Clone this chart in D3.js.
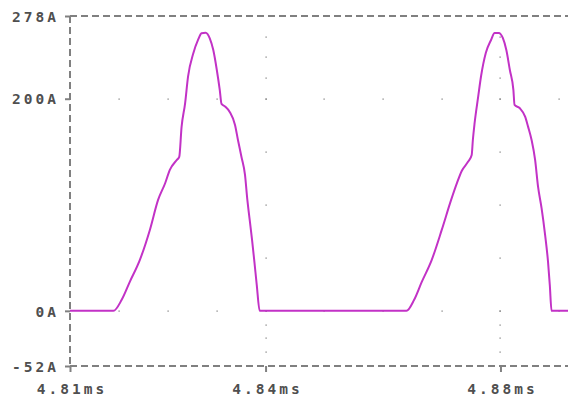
<!DOCTYPE html>
<html>
<head>
<meta charset="utf-8">
<script src="https://cdn.jsdelivr.net/npm/d3@7"></script>
<style>
  html, body { margin: 0; padding: 0; background: #fff; }
  svg { display: block; }
</style>
</head>
<body>
<svg id="chart" width="568" height="398"></svg>
<script>
// trace values (time in ms, current in A)
const timeMs = [
  4.8100, 4.8174, 4.8188, 4.8202, 4.8219, 4.8236, 4.8250, 4.8262, 4.8270, 4.8282,
  4.8286, 4.8290, 4.8296, 4.8301, 4.8310, 4.8318, 4.8324, 4.8331, 4.8338, 4.8344,
  4.8350, 4.8355, 4.8358, 4.8364, 4.8372, 4.8381, 4.8386, 4.8392, 4.8398, 4.8402,
  4.8406, 4.8410, 4.8414, 4.8418, 4.8423,
  4.8673, 4.8686, 4.8699, 4.8716, 4.8733, 4.8749, 4.8759, 4.8767, 4.8778, 4.8784,
  4.8786, 4.8789, 4.8795, 4.8800, 4.8808, 4.8817, 4.8823, 4.8830, 4.8837, 4.8843,
  4.8849, 4.8855, 4.8857, 4.8866, 4.8875, 4.8880, 4.8886, 4.8892, 4.8897, 4.8903,
  4.8909, 4.8914, 4.8917, 4.8920, 4.8948
];
const currentA = [
  0, 0, 10.4, 27.6, 48.1, 76.3, 104.6, 120.3, 132.9, 142.3,
  145.1, 173.4, 195.7, 220.8, 242.8, 255.4, 261.7, 262.3, 257.0, 245.9,
  227.1, 208.3, 195.1, 192.7, 187.5, 175.3, 161.1, 145.1, 128.2, 104.6,
  85.8, 66.9, 46.2, 24.5, 0,
  0, 10.4, 27.3, 48.1, 76.3, 104.6, 120.6, 131.9, 140.7, 147.0,
  161.1, 177.2, 201.7, 221.4, 243.1, 255.4, 262.0, 262.0, 257.3, 245.9,
  227.1, 208.3, 194.1, 191.0, 183.1, 173.7, 161.1, 142.3, 117.1, 96.8,
  71.6, 46.2, 24.5, 0, 0
];

// axis ticks and labels
const xTicks = [4.81, 4.8433, 4.8833];
const xLabels = ["4.81ms", "4.84ms", "4.88ms"];
const yTicks = [278, 200, 0, -52];
const yLabels = ["278A", "200A", "0A", "-52A"];

// dotted grid positions
const xGridMinor = [4.8183, 4.8267, 4.835, 4.8433, 4.8533, 4.8633, 4.8733, 4.8833, 4.8933];
const yGridMajor = [200, 0];
const yGridMinor = [258.5, 239, 219.5, 200, 150, 100, 50, 0, -13, -26, -39];
const xGridMajor = [4.8433, 4.8833];

const svg = d3.select("#chart");
const width = +svg.attr("width");
const height = +svg.attr("height");

const margin = { left: 70, top: 16, right: 0, bottom: 32 };

const x = d3.scaleLinear()
  .domain([4.81, 4.8948])
  .range([margin.left, width - margin.right]);

const y = d3.scaleLinear()
  .domain([-52, 278])
  .range([height - margin.bottom, margin.top]);

const axisColor = "#808080";
const textColor = "#4f4f4f";
const font = "'DejaVu Sans Mono', 'Liberation Mono', monospace";

// dotted grid
const dots = [];
yGridMajor.forEach((v) => xGridMinor.forEach((t) => dots.push([t, v])));
xGridMajor.forEach((t) => yGridMinor.forEach((v) => dots.push([t, v])));

svg.append("g")
  .selectAll("rect")
  .data(dots)
  .join("rect")
  .attr("x", (d) => Math.round(x(d[0])) - 0.5)
  .attr("y", (d) => Math.round(y(d[1])) - 0.5)
  .attr("width", 1.2)
  .attr("height", 1.2)
  .attr("fill", "#777");

// dashed frame: left, top, bottom
const frame = svg.append("g")
  .attr("stroke", axisColor)
  .attr("stroke-width", 2)
  .attr("stroke-dasharray", "7,4")
  .attr("fill", "none");

frame.append("line")
  .attr("x1", x(4.81)).attr("x2", x(4.81))
  .attr("y1", y(278)).attr("y2", y(-52));
frame.append("line")
  .attr("x1", x(4.81)).attr("x2", width)
  .attr("y1", y(278)).attr("y2", y(278));
frame.append("line")
  .attr("x1", x(4.81)).attr("x2", width)
  .attr("y1", y(-52)).attr("y2", y(-52));

// y axis ticks and labels
const yAxis = svg.append("g")
  .attr("transform", `translate(${x(4.81)},0)`)
  .call(d3.axisLeft(y).tickValues(yTicks).tickSize(5).tickPadding(7)
    .tickFormat((d, i) => yLabels[i]));
yAxis.select(".domain").remove();
yAxis.selectAll(".tick line").attr("stroke", axisColor).attr("stroke-width", 2);
yAxis.selectAll(".tick text")
  .attr("fill", textColor)
  .style("font-family", font)
  .style("font-weight", "bold")
  .style("font-size", "14.5px")
  .style("letter-spacing", "3px")
  .attr("dy", "0.36em")
  .attr("x", -11);

// x axis ticks and labels
const xAxis = svg.append("g")
  .attr("transform", `translate(0,${y(-52)})`)
  .call(d3.axisBottom(x).tickValues(xTicks).tickSize(6).tickPadding(12)
    .tickFormat((d, i) => xLabels[i]));
xAxis.select(".domain").remove();
xAxis.selectAll(".tick line").attr("stroke", axisColor).attr("stroke-width", 2);
xAxis.selectAll(".tick text")
  .attr("fill", textColor)
  .style("font-family", font)
  .style("font-weight", "bold")
  .style("font-size", "14.5px")
  .style("letter-spacing", "3px")
  .attr("dx", "1.5px");

// current trace
const points = timeMs.map((t, i) => [t, currentA[i]]);
svg.append("path")
  .datum(points)
  .attr("fill", "none")
  .attr("stroke", "#c232c6")
  .attr("stroke-width", 2)
  .attr("stroke-linejoin", "round")
  .attr("d", d3.line().curve(d3.curveMonotoneX).x((d) => x(d[0])).y((d) => y(d[1])));
</script>
</body>
</html>
